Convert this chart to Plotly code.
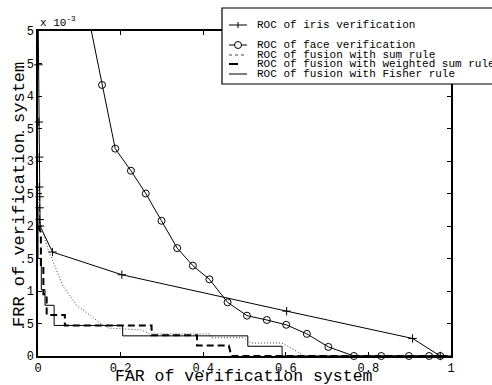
import plotly.graph_objects as go

# ---- data (FRR in units of 1e-3) ----
iris_far = [0.0, 0.001, 0.002, 0.003, 0.003, 0.004, 0.004, 0.004, 0.005, 0.035, 0.203, 0.602, 0.907, 0.974]
iris_frr = [5.5, 4.48, 3.6, 3.06, 2.6, 2.45, 2.28, 2.1, 2.0, 1.6, 1.25, 0.69, 0.27, 0.0]

face_far = [0.11, 0.155, 0.187, 0.225, 0.261, 0.299, 0.337, 0.375, 0.415, 0.459, 0.506,
            0.554, 0.601, 0.651, 0.703, 0.765, 0.831, 0.898, 0.947, 0.974]
face_frr = [5.6, 4.17, 3.19, 2.85, 2.50, 2.08, 1.66, 1.39, 1.18, 0.826, 0.62,
            0.554, 0.48, 0.34, 0.14, 0.0, 0.0, 0.0, 0.0, 0.0]

sum_far = [0.0, 0.003, 0.006, 0.025, 0.041, 0.061, 0.094, 0.13, 0.154, 0.17, 0.2, 0.25,
           0.27, 0.416, 0.42, 0.5, 0.515, 0.59, 0.6, 0.645, 1.0]
sum_frr = [2.6, 2.3, 2.0, 1.63, 1.37, 1.07, 0.78, 0.6, 0.49, 0.43, 0.42, 0.40,
           0.34, 0.34, 0.28, 0.28, 0.2, 0.2, 0.17, 0.0, 0.0]

wsum_far = [0.0, 0.007, 0.007, 0.013, 0.013, 0.021, 0.021, 0.065, 0.065, 0.275, 0.275,
            0.385, 0.385, 0.462, 0.468, 1.0]
wsum_frr = [2.0, 1.9, 1.4, 1.4, 0.95, 0.95, 0.63, 0.63, 0.47, 0.47, 0.32,
            0.32, 0.16, 0.16, 0.0, 0.0]

fisher_far = [0.0, 0.0, 0.008, 0.008, 0.017, 0.017, 0.039, 0.039, 0.205, 0.205,
              0.508, 0.508, 0.591, 0.591, 1.0]
fisher_frr = [2.3, 1.5, 1.5, 1.02, 1.02, 0.78, 0.78, 0.47, 0.47, 0.31,
              0.31, 0.15, 0.15, 0.0, 0.0]

series_names = ["ROC of iris verification", "ROC of face verification",
                "ROC of fusion with sum rule", "ROC of fusion with weighted sum rule",
                "ROC of fusion with Fisher rule"]

x_ticks = [0, 0.2, 0.4, 0.6, 0.8, 1]
x_ticklabels = ["0", "0.2", "0.4", "0.6", "0.8", "1"]
y_ticks = [0, 0.5, 1, 1.5, 2, 2.5, 3, 3.5, 4, 4.5, 5]
y_ticklabels = ["0", ".5", "1", ".5", "2", ".5", "3", ".5", "4", ".5", "5"]

FONT = "Liberation Mono, Courier New, monospace"

W, H = 492, 385
L, R, T, B = 38, 41, 31, 29
PW, PH = W - L - R, H - T - B


def px(xp):
    return (xp - L) / PW


def py(yp):
    return (T + PH - yp) / PH


fig = go.Figure()
fig.add_trace(go.Scatter(x=iris_far, y=iris_frr, mode="lines+markers", cliponaxis=False,
                         line=dict(color="black", width=1),
                         marker=dict(symbol="cross-thin-open", size=6,
                                     line=dict(color="black", width=1)),
                         name=series_names[0], showlegend=False))
fig.add_trace(go.Scatter(x=face_far, y=face_frr, mode="lines+markers", cliponaxis=False,
                         line=dict(color="black", width=1),
                         marker=dict(symbol="circle-open", size=7,
                                     line=dict(color="black", width=1)),
                         name=series_names[1], showlegend=False))
fig.add_trace(go.Scatter(x=sum_far, y=sum_frr, mode="lines",
                         line=dict(color="#444444", width=1, dash="1px,2px"),
                         name=series_names[2], showlegend=False))
fig.add_trace(go.Scatter(x=wsum_far, y=wsum_frr, mode="lines",
                         line=dict(color="black", width=2, dash="7px,4px"),
                         name=series_names[3], showlegend=False))
fig.add_trace(go.Scatter(x=fisher_far, y=fisher_frr, mode="lines",
                         line=dict(color="black", width=1),
                         name=series_names[4], showlegend=False))

shapes = []
annotations = []

# legend box
shapes.append(dict(type="rect", xref="paper", yref="paper",
                   x0=px(222), x1=px(530), y0=py(84), y1=py(8),
                   line=dict(color="black", width=1.2), fillcolor="white", layer="above"))
leg_y = [25, 45, 55, 64, 74]
styles = [dict(color="black", width=1), dict(color="black", width=1),
          dict(color="#444444", width=1, dash="dot"),
          dict(color="black", width=2, dash="dash"),
          dict(color="black", width=1)]
for name, yy, st in zip(series_names, leg_y, styles):
    shapes.append(dict(type="line", xref="paper", yref="paper",
                       x0=px(229), x1=px(247), y0=py(yy), y1=py(yy), line=st, layer="above"))
    annotations.append(dict(text=name, xref="paper", yref="paper", x=px(255), y=py(yy),
                            xanchor="left", yanchor="middle", showarrow=False,
                            font=dict(family=FONT, size=11, color="black")))
# legend markers
cx = 238
shapes.append(dict(type="line", xref="paper", yref="paper", x0=px(cx), x1=px(cx),
                   y0=py(leg_y[0] - 3), y1=py(leg_y[0] + 3),
                   line=dict(color="black", width=1), layer="above"))
shapes.append(dict(type="circle", xref="paper", yref="paper", x0=px(cx - 3.5), x1=px(cx + 3.5),
                   y0=py(leg_y[1] + 3.5), y1=py(leg_y[1] - 3.5),
                   line=dict(color="black", width=1), fillcolor="white", layer="above"))

# exponent label
annotations.append(dict(text="x 10<sup>-3</sup>", xref="paper", yref="paper",
                        x=px(38), y=py(22), xanchor="left", yanchor="middle",
                        showarrow=False, font=dict(family=FONT, size=11, color="black")))
# axis titles
annotations.append(dict(text="FAR of verification system", xref="paper", yref="paper",
                        x=px(244), y=py(377), xanchor="center", yanchor="middle",
                        showarrow=False, font=dict(family=FONT, size=16.5, color="black")))
annotations.append(dict(text="FRR of verification system", xref="paper", yref="paper",
                        x=px(19), y=py(195), xanchor="center", yanchor="middle", textangle=-90,
                        showarrow=False, font=dict(family=FONT, size=17, color="black")))

fig.update_layout(
    width=W, height=H,
    margin=dict(l=L, r=R, t=T, b=B, pad=0, autoexpand=False),
    paper_bgcolor="white", plot_bgcolor="white",
    showlegend=False,
    shapes=shapes, annotations=annotations,
    font=dict(family=FONT, size=12, color="black"),
)
fig.update_xaxes(range=[0, 1], tickvals=x_ticks, ticktext=x_ticklabels, automargin=False,
                 ticks="inside", ticklen=4, tickcolor="black", showgrid=False, zeroline=False,
                 showline=True, linecolor="black", linewidth=1.5, mirror="ticks",
                 tickfont=dict(family=FONT, size=12))
fig.update_yaxes(range=[0, 5], tickvals=y_ticks, ticktext=y_ticklabels, automargin=False,
                 ticks="inside", ticklen=4, tickcolor="black", showgrid=False, zeroline=False,
                 showline=True, linecolor="black", linewidth=1.5, mirror="ticks",
                 tickfont=dict(family=FONT, size=12))

fig.write_html("out.html", config={"displayModeBar": False},
               post_script="document.body.style.margin='0';document.body.style.overflow='hidden';")
